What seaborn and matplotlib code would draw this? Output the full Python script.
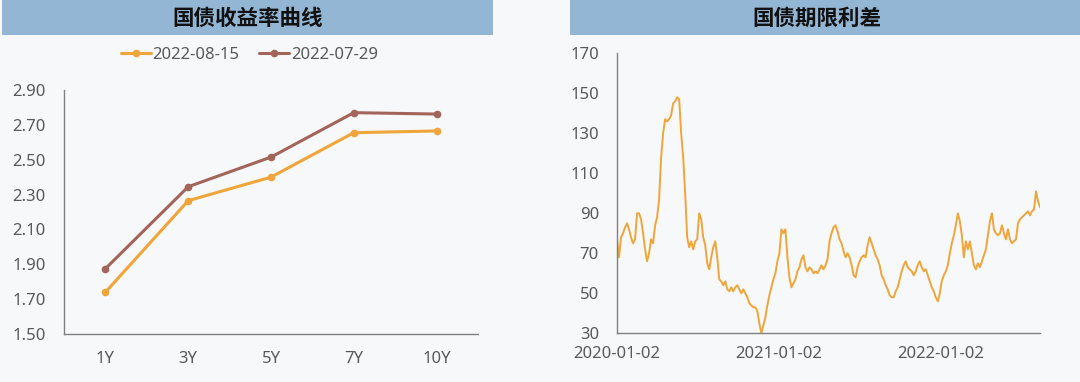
import numpy as np
import pandas as pd
import matplotlib
matplotlib.use("Agg")
import matplotlib.pyplot as plt
import matplotlib.dates as mdates
from matplotlib.patches import Rectangle
from matplotlib.ticker import FixedLocator, NullFormatter
import seaborn as sns

# ---- datos: curva de rendimiento ----
tenors = ["1Y", "3Y", "5Y", "7Y", "10Y"]
yield_0815 = [1.74, 2.265, 2.40, 2.655, 2.665]
yield_0729 = [1.875, 2.345, 2.515, 2.77, 2.762]
curve_labels = ["2022-08-15", "2022-07-29"]

# ---- datos: diferencial de plazos (pb), lectura aproximada ----
spread_start = "2020-01-02"
spread_end = "2022-08-15"
spread = [
    77, 68, 78, 80, 83, 85, 82, 78, 75, 77, 90, 90, 87, 80, 72, 66, 70, 77, 75, 84,
    88, 97, 118, 130, 137, 136, 137, 139, 145, 146, 148, 147, 130, 118, 100, 78, 73, 76, 72, 76,
    77, 90, 87, 78, 74, 65, 62, 68, 73, 76, 68, 57, 56, 54, 56, 52, 51, 53, 51, 53,
    54, 52, 50, 52, 50, 48, 45, 44, 43, 43, 41, 35, 30, 34, 38, 44, 49, 53, 57, 60,
    66, 70, 82, 80, 82, 68, 58, 53, 55, 57, 61, 63, 67, 69, 63, 61, 63, 62, 60, 61,
    60, 62, 64, 62, 64, 67, 76, 80, 83, 84, 81, 77, 75, 71, 68, 70, 68, 64, 59, 58,
    63, 66, 68, 69, 68, 74, 78, 75, 72, 69, 67, 64, 59, 57, 54, 52, 49, 48, 48, 51,
    53, 57, 61, 64, 66, 63, 62, 61, 59, 61, 64, 66, 63, 61, 62, 59, 56, 53, 51, 48,
    46, 50, 56, 59, 61, 64, 70, 75, 79, 84, 90, 86, 79, 68, 76, 72, 76, 70, 64, 62,
    65, 63, 66, 69, 72, 79, 86, 90, 82, 80, 79, 80, 84, 80, 77, 82, 77, 75, 76, 77,
    85, 87, 88, 89, 90, 91, 89, 91, 92, 101, 96, 93,
]
year_ticks = ["2020-01-02", "2021-01-02", "2022-01-02"]

ORANGE = "#EFA53A"
BROWN = "#A3645A"
GREY = "#595959"
AXIS = "#808080"
BAR = "#93B6D4"
BG = "#F7F8FA"

sns.set_theme(style="white")
plt.rcParams["font.family"] = ["Noto Sans", "Noto Sans CJK SC", "DejaVu Sans"]
plt.rcParams["axes.unicode_minus"] = False

fig = plt.figure(figsize=(10.8, 3.82), dpi=100, facecolor=BG)

# barras de titulo
fig.patches.append(Rectangle((0.002, 0.908), 0.4545, 0.092, transform=fig.transFigure,
                             facecolor=BAR, edgecolor="none"))
fig.patches.append(Rectangle((0.528, 0.908), 0.472, 0.092, transform=fig.transFigure,
                             facecolor=BAR, edgecolor="none"))
fig.text(0.229, 0.953, "国债收益率曲线", ha="center", va="center", fontsize=15.5,
         fontweight="bold", color="#111111", family=["Noto Sans CJK SC", "DejaVu Sans"])
fig.text(0.756, 0.953, "国债期限利差", ha="center", va="center", fontsize=15.5,
         fontweight="bold", color="#111111", family=["Noto Sans CJK SC", "DejaVu Sans"])


def style_axis(ax):
    ax.set_facecolor(BG)
    for side in ["top", "right"]:
        ax.spines[side].set_visible(False)
    for side in ["left", "bottom"]:
        ax.spines[side].set_color(AXIS)
        ax.spines[side].set_linewidth(1.0)
    ax.tick_params(axis="both", which="major", direction="out", length=5, width=1,
                   color=AXIS, labelcolor=GREY, labelsize=12)
    ax.set_xlabel("")
    ax.set_ylabel("")


# ---- panel izquierdo ----
ax1 = fig.add_axes([0.0593, 0.1257, 0.3833, 0.6387])
curve = pd.DataFrame({
    "tenor": tenors * 2,
    "yield": yield_0815 + yield_0729,
    "date": [curve_labels[0]] * len(tenors) + [curve_labels[1]] * len(tenors),
})
sns.lineplot(data=curve, x="tenor", y="yield", hue="date", palette=[ORANGE, BROWN],
             marker="o", markersize=5.5, markeredgewidth=0, linewidth=2.2,
             sort=False, ax=ax1)
ax1.set_xlim(-0.5, len(tenors) - 0.5)
ax1.set_ylim(1.5, 2.9)
ax1.set_yticks(np.arange(1.5, 2.91, 0.2))
ax1.set_yticklabels([f"{v:.2f}" for v in np.arange(1.5, 2.91, 0.2)])
ax1.xaxis.set_major_locator(FixedLocator(np.arange(-0.5, len(tenors), 1.0)))
ax1.xaxis.set_major_formatter(NullFormatter())
ax1.xaxis.set_minor_locator(FixedLocator(range(len(tenors))))
ax1.set_xticklabels(tenors, minor=True)
style_axis(ax1)
ax1.tick_params(axis="x", which="minor", length=0, labelcolor=GREY, labelsize=12, pad=12)
ax1.tick_params(axis="y", pad=8)

handles, labels = ax1.get_legend_handles_labels()
ax1.legend(handles, labels, loc="center", bbox_to_anchor=(0.231, 0.856),
           bbox_transform=fig.transFigure, ncol=2, frameon=False, fontsize=12,
           handlelength=1.8, handletextpad=0.1, columnspacing=1.2, labelcolor=GREY)

# ---- panel derecho ----
ax2 = fig.add_axes([0.5713, 0.1275, 0.3917, 0.733])
spread_df = pd.DataFrame({
    "date": pd.date_range(spread_start, spread_end, periods=len(spread)),
    "spread": spread,
})
sns.lineplot(data=spread_df, x="date", y="spread", color=ORANGE, linewidth=1.4, ax=ax2)
ax2.set_xlim(pd.Timestamp(spread_start), pd.Timestamp(spread_end))
ax2.set_ylim(30, 170)
ax2.set_yticks(range(30, 171, 20))
ax2.set_xticks(pd.to_datetime(year_ticks))
ax2.xaxis.set_major_formatter(mdates.DateFormatter("%Y-%m-%d"))
style_axis(ax2)
ax2.tick_params(axis="y", pad=8)
ax2.tick_params(axis="x", pad=4)

fig.savefig("out.png", dpi=100, facecolor=BG)
